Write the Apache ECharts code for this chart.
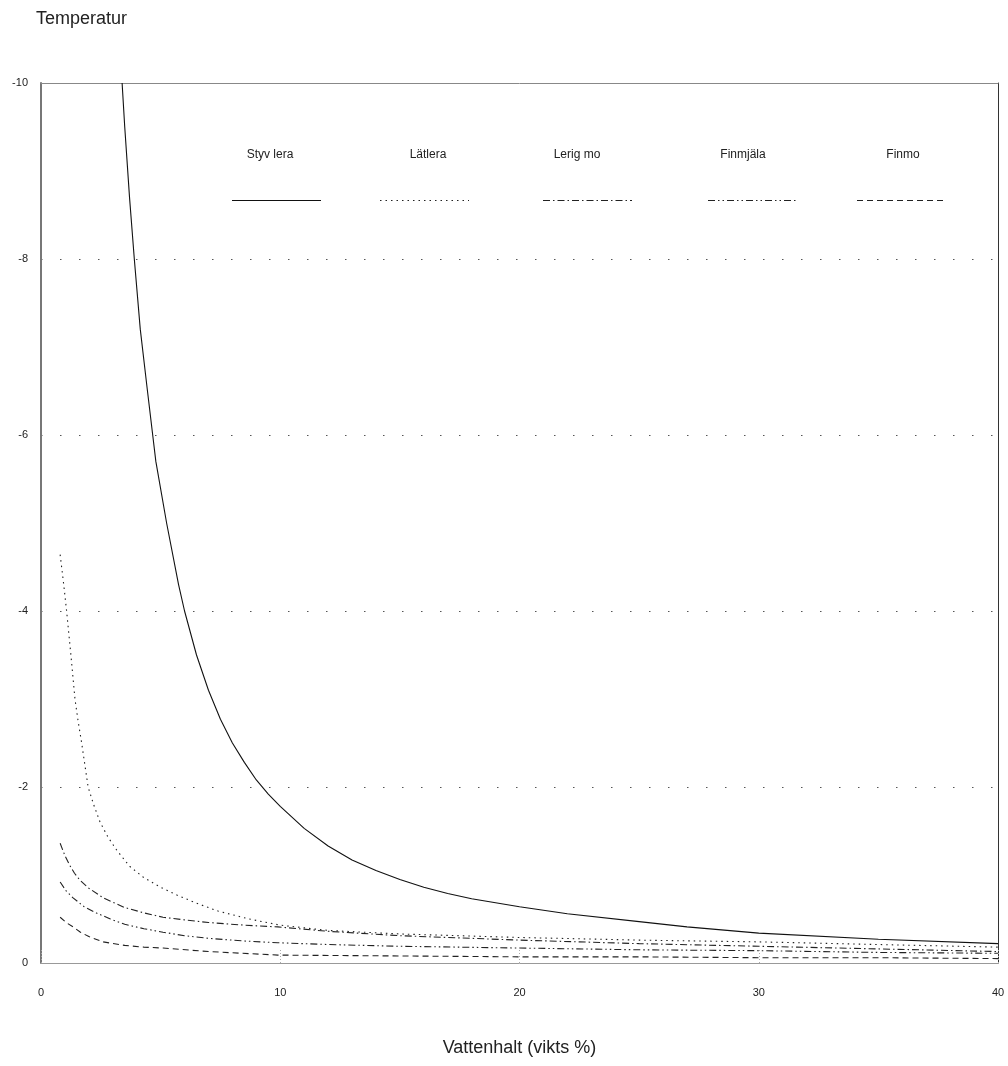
<!DOCTYPE html>
<html>
<head>
<meta charset="utf-8">
<script src="https://cdn.jsdelivr.net/npm/echarts@6/dist/echarts.min.js"></script>
<style>
html,body{margin:0;padding:0;background:#fff;}
#chart{width:1008px;height:1066px;}
</style>
</head>
<body>
<div id="chart"></div>
<script>
// Series names (legend order)
const seriesNames = ['Styv lera', 'Lätlera', 'Lerig mo', 'Finmjäla', 'Finmo'];

// Axis tick labels
const xTicks = [0, 10, 20, 30, 40];
const yTicks = [0, -2, -4, -6, -8, -10];

// Styv lera (solid)
const styvX = [3.39, 3.5, 3.7, 3.9, 4.15, 4.45, 4.8, 5.25, 5.75, 6.0, 6.5, 7.0, 7.5, 8.0, 8.5, 9.0, 9.5, 10, 11, 12, 13, 14, 15, 16, 17, 18, 20, 22, 25, 27, 30, 35, 40];
const styvY = [-10, -9.5, -8.7, -8.0, -7.2, -6.5, -5.7, -5.0, -4.3, -4.0, -3.5, -3.1, -2.77, -2.5, -2.28, -2.08, -1.92, -1.78, -1.53, -1.33, -1.17, -1.05, -0.95, -0.86, -0.79, -0.73, -0.64, -0.56, -0.47, -0.41, -0.34, -0.27, -0.22];

// Lätlera (dotted)
const latX = [0.8, 0.95, 1.07, 1.25, 1.42, 1.55, 1.7, 1.85, 1.97, 2.2, 2.47, 2.8, 3.17, 3.7, 4.3, 5.0, 5.7, 6.5, 7.4, 8.7, 10, 12, 15, 20, 25, 30, 35, 40];
const latY = [-4.64, -4.3, -4.0, -3.5, -3.0, -2.75, -2.5, -2.22, -2.0, -1.8, -1.6, -1.43, -1.28, -1.1, -0.97, -0.86, -0.77, -0.68, -0.59, -0.5, -0.43, -0.37, -0.33, -0.29, -0.26, -0.24, -0.21, -0.18];

// Lerig mo (dash-dot)
const lerigX = [0.8, 1.0, 1.2, 1.4, 1.63, 2.0, 2.6, 3.5, 4.3, 5.1, 6.0, 7.0, 8.5, 9.9, 12, 15, 20, 25, 30, 35, 40];
const lerigY = [-1.36, -1.22, -1.11, -1.02, -0.94, -0.85, -0.74, -0.63, -0.57, -0.52, -0.49, -0.46, -0.43, -0.41, -0.36, -0.31, -0.26, -0.22, -0.19, -0.16, -0.13];

// Finmjäla (dash-dot-dot)
const finmjX = [0.8, 1.05, 1.34, 1.8, 2.3, 2.9, 3.5, 4.3, 5.1, 6.0, 7.0, 8.5, 9.9, 12, 15, 20, 25, 30, 35, 40];
const finmjY = [-0.92, -0.82, -0.74, -0.64, -0.57, -0.5, -0.44, -0.39, -0.35, -0.31, -0.28, -0.25, -0.23, -0.21, -0.19, -0.17, -0.15, -0.14, -0.12, -0.11];

// Finmo (dashed)
const finmoX = [0.8, 1.05, 1.34, 1.65, 2.0, 2.6, 3.5, 4.3, 5.1, 7.0, 9.9, 15, 20, 25, 30, 35, 40];
const finmoY = [-0.52, -0.46, -0.41, -0.35, -0.3, -0.24, -0.2, -0.18, -0.17, -0.13, -0.09, -0.08, -0.07, -0.07, -0.06, -0.06, -0.05];

const pairs = (xs, ys) => xs.map((x, i) => [x, ys[i]]);
const seriesData = [pairs(styvX, styvY), pairs(latX, latY), pairs(lerigX, lerigY), pairs(finmjX, finmjY), pairs(finmoX, finmoY)];

const dashTypes = ['solid', [1.5, 4], [7, 3, 1.5, 3], [7, 3, 1.5, 3, 1.5, 3], [6, 4]];
const lineColors = ['#111', '#222', '#222', '#222', '#222'];
const legendLeft = [232, 380, 543, 708, 857];
const legendWidth = 89;
const labelCenter = [270, 428, 577, 743, 903];

const FONT = 'Liberation Sans, Arial, sans-serif';

const chart = echarts.init(document.getElementById('chart'), null, {renderer: 'canvas'});

const legendGraphics = [];
seriesNames.forEach((n, i) => {
  legendGraphics.push({
    type: 'text',
    x: labelCenter[i], y: 149,
    style: {text: n, textAlign: 'center', font: '12px ' + FONT, fill: '#222'}
  });
  legendGraphics.push({
    type: 'line',
    shape: {x1: legendLeft[i], y1: 200.5, x2: legendLeft[i] + legendWidth, y2: 200.5},
    style: {stroke: lineColors[i], lineWidth: 1.1, lineDash: dashTypes[i] === 'solid' ? null : dashTypes[i]}
  });
});

const option = {
  backgroundColor: '#fff',
  animation: false,
  title: {
    text: 'Temperatur',
    left: 31, top: 5,
    textStyle: {fontFamily: FONT, fontSize: 18, fontWeight: 'normal', color: '#222'}
  },
  grid: {
    left: 41, right: 10, top: 83, bottom: 103,
    show: false
  },
  graphic: legendGraphics,
  xAxis: [{
    type: 'value',
    min: 0, max: 40, interval: 10,
    name: 'Vattenhalt (vikts %)',
    nameLocation: 'middle',
    nameGap: 76,
    nameTextStyle: {fontFamily: FONT, fontSize: 18, color: '#222'},
    axisLine: {show: true, lineStyle: {color: '#999', width: 1}},
    axisTick: {show: true, inside: true, length: 14, lineStyle: {color: '#aaa', type: [1, 2]}},
    axisLabel: {
      fontFamily: FONT, fontSize: 11, color: '#222', margin: 24,
      formatter: v => xTicks.includes(v) ? String(v) : ''
    },
    splitLine: {show: false}
  }, {
    type: 'value',
    position: 'top',
    min: 0, max: 40, interval: 10,
    axisLine: {show: true, onZero: false, lineStyle: {color: '#888', width: 1}},
    axisTick: {show: false},
    axisLabel: {show: false},
    splitLine: {show: false}
  }],
  yAxis: [{
    type: 'value',
    min: -10, max: 0, interval: 2,
    inverse: true,
    axisLine: {show: true, onZero: false, lineStyle: {color: '#777', width: 2}},
    axisTick: {show: false},
    axisLabel: {
      fontFamily: FONT, fontSize: 11, color: '#222', margin: 13,
      formatter: v => yTicks.includes(v) ? String(v) : ''
    },
    splitLine: {show: true, lineStyle: {color: '#555', width: 1, type: [1.5, 17.5]}}
  }, {
    type: 'value',
    position: 'right',
    min: -10, max: 0, interval: 2,
    inverse: true,
    axisLine: {show: true, onZero: false, lineStyle: {color: '#333', width: 1}},
    axisTick: {show: false},
    axisLabel: {show: false},
    splitLine: {show: false}
  }],
  series: seriesNames.map((n, i) => ({
    name: n,
    type: 'line',
    xAxisIndex: 0,
    yAxisIndex: 0,
    data: seriesData[i],
    smooth: false,
    symbol: 'none',
    clip: true,
    color: lineColors[i],
    lineStyle: {color: lineColors[i], width: 1.1, type: dashTypes[i]}
  }))
};

chart.setOption(option);
</script>
</body>
</html>
